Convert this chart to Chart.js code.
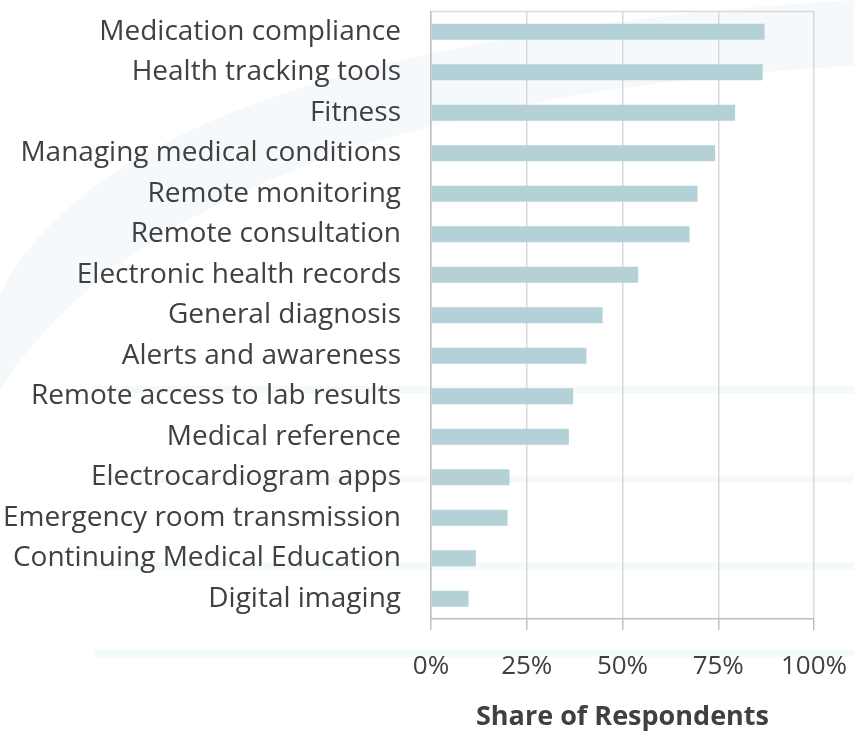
<!DOCTYPE html>
<html>
<head>
<meta charset="utf-8">
<script src="https://cdn.jsdelivr.net/npm/chart.js@4"></script>
<style>
   html, body { margin: 0; padding: 0; background: #ffffff; }
   #wrap { width: 854px; height: 734px; position: relative; }
</style>
</head>
<body>
<div id="wrap"><canvas id="chart"></canvas></div>
<script>
const CATEGORIES = [
   "Medication compliance",
   "Health tracking tools",
   "Fitness",
   "Managing medical conditions",
   "Remote monitoring",
   "Remote consultation",
   "Electronic health records",
   "General diagnosis",
   "Alerts and awareness",
   "Remote access to lab results",
   "Medical reference",
   "Electrocardiogram apps",
   "Emergency room transmission",
   "Continuing Medical Education",
   "Digital imaging",
];
const SHARE = [87.1, 86.6, 79.4, 74.2, 69.6, 67.5, 54.1, 44.8, 40.6, 37.1, 36.0, 20.5, 20.0, 11.7, 9.8];
const X_TICKS = [0, 25, 50, 75, 100];
const X_TITLE = "Share of Respondents";

const FONT = "'Open Sans', 'Noto Sans', sans-serif";
const TEXT = "#404040";

// faint watermark behind the chart, and the top border of the plot area
const backdrop = {
   id: "backdrop",
   beforeDraw(chart) {
      const { ctx, width, height } = chart;
      ctx.save();
      ctx.fillStyle = "#f6f9fb";
      ctx.beginPath();
      ctx.moveTo(0, height * 0.4);
      ctx.quadraticCurveTo(width * 0.15, height * 0.06, width, 0);
      ctx.lineTo(width, height * 0.09);
      ctx.quadraticCurveTo(width * 0.22, height * 0.14, 0, height * 0.53);
      ctx.closePath();
      ctx.fill();
      ctx.strokeStyle = "#f4f9fb";
      ctx.lineWidth = 7;
      [0.531, 0.653, 0.771, 0.89].forEach((f) => {
         ctx.beginPath();
         ctx.moveTo(width * 0.11, height * f);
         ctx.lineTo(width, height * f);
         ctx.stroke();
      });
      ctx.restore();
   },
   afterDraw(chart) {
      const { ctx, chartArea } = chart;
      ctx.save();
      ctx.strokeStyle = "#d9d9d9";
      ctx.lineWidth = 1.5;
      ctx.beginPath();
      ctx.moveTo(chartArea.left, chartArea.top);
      ctx.lineTo(chartArea.right, chartArea.top);
      ctx.stroke();
      ctx.restore();
   },
};

const noPadding = (scale) => {
   scale.paddingLeft = 0;
   scale.paddingRight = 0;
   scale.paddingTop = 0;
   scale.paddingBottom = 0;
};

const ctx = document.getElementById("chart").getContext("2d");
new Chart(ctx, {
   type: "bar",
   data: {
      labels: CATEGORIES,
      datasets: [
         {
            data: SHARE,
            backgroundColor: "#b3d1d6",
            borderWidth: 0,
            barPercentage: 0.8,
            categoryPercentage: 0.5,
         },
      ],
   },
   options: {
      indexAxis: "y",
      responsive: true,
      maintainAspectRatio: false,
      animation: false,
      layout: { padding: { top: 11.5, right: 40, left: 0, bottom: 0 } },
      scales: {
         x: {
            min: 0,
            max: 100,
            afterBuildTicks: (scale) => {
               scale.ticks = X_TICKS.map((v) => ({ value: v }));
            },
            afterFit: (scale) => {
               scale.height = 115;
               noPadding(scale);
            },
            grid: {
               color: "#d9d9d9",
               lineWidth: 1.5,
               tickLength: 11,
               tickColor: "#bfbfbf",
            },
            border: { color: "#bfbfbf", width: 1.5 },
            ticks: {
               padding: 21,
               color: TEXT,
               font: { family: FONT, size: 26 },
               callback: (v) => v + "%",
            },
            title: {
               display: true,
               text: X_TITLE,
               color: TEXT,
               font: { family: FONT, size: 27, weight: "bold" },
               padding: { top: 0, bottom: 0 },
            },
         },
         y: {
            afterFit: (scale) => {
               scale.width = 431;
               noPadding(scale);
            },
            grid: { display: false, drawTicks: false },
            border: { color: "#bfbfbf", width: 1.5 },
            ticks: {
               padding: 30,
               color: TEXT,
               font: { family: FONT, size: 28 },
               autoSkip: false,
            },
         },
      },
      plugins: {
         legend: { display: false },
         tooltip: { enabled: false },
      },
   },
   plugins: [backdrop],
});
</script>
</body>
</html>
